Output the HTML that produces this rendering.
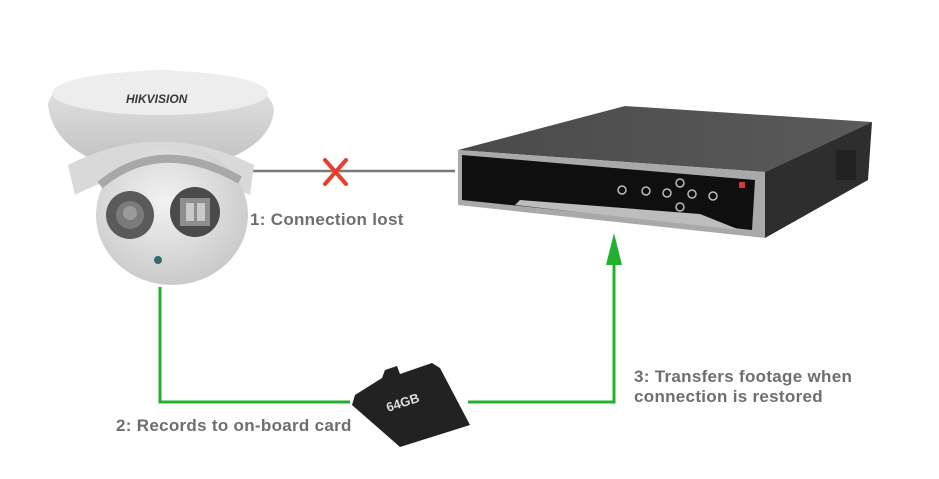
<!DOCTYPE html>
<html><head><meta charset="utf-8"><style>
html,body{margin:0;padding:0;background:#fff;width:939px;height:479px;overflow:hidden}
text{font-family:"Liberation Sans",sans-serif;font-weight:bold;fill:#6e6e6e}
</style></head><body>
<svg width="939" height="479" viewBox="0 0 939 479" xmlns="http://www.w3.org/2000/svg">
<defs>
<linearGradient id="dome" x1="0" y1="0" x2="0" y2="1"><stop offset="0" stop-color="#e8e8e8"/><stop offset="1" stop-color="#bdbdbd"/></linearGradient>
<radialGradient id="ball" cx="0.45" cy="0.4" r="0.7"><stop offset="0" stop-color="#f2f2f2"/><stop offset="1" stop-color="#c4c4c4"/></radialGradient>
<linearGradient id="top" x1="0" y1="0" x2="1" y2="0"><stop offset="0" stop-color="#4a4a4a"/><stop offset="1" stop-color="#5a5a5a"/></linearGradient>
</defs>
<line x1="250" y1="171" x2="455" y2="171" stroke="#7a7a7a" stroke-width="2.5"/>
<g stroke="#e8402e" stroke-width="4" stroke-linecap="round"><line x1="325" y1="160" x2="346" y2="184"/><line x1="346" y1="160" x2="325" y2="184"/></g>
<text x="250" y="225" font-size="17" letter-spacing="0.3">1: Connection lost</text>
<!-- camera -->
<path d="M48 105 Q50 75 160 70 Q270 75 274 110 Q270 160 160 175 Q55 165 48 105 Z" fill="url(#dome)"/>
<ellipse cx="160" cy="93" rx="108" ry="22" fill="#ededed"/>
<text x="126" y="103" font-size="12" font-style="italic" style="fill:#3a3a3a">HIKVISION</text>
<path d="M68 165 Q160 118 254 165 L250 195 Q160 150 75 195 Z" fill="#d9d9d9"/>
<ellipse cx="172" cy="215" rx="76" ry="70" fill="url(#ball)"/>
<path d="M100 185 Q160 135 240 180" stroke="#a8a8a8" stroke-width="8" fill="none"/>
<circle cx="130" cy="215" r="24" fill="#5a5a5a"/><circle cx="130" cy="215" r="14" fill="#7a7a7a"/><circle cx="130" cy="213" r="7" fill="#9a9a9a"/>
<circle cx="195" cy="212" r="25" fill="#4a4a4a"/><rect x="180" y="198" width="30" height="28" fill="#8e8e8e"/><rect x="186" y="203" width="8" height="18" fill="#c9c9c9"/><rect x="197" y="203" width="8" height="18" fill="#c9c9c9"/>
<circle cx="158" cy="260" r="4" fill="#2f6d6a"/>
<!-- green path -->
<polyline points="160,287 160,402 350,402" fill="none" stroke="#22b02e" stroke-width="3"/>
<polyline points="468,402 614,402 614,262" fill="none" stroke="#22b02e" stroke-width="3"/>
<polygon points="614,233 606,265 622,265" fill="#22b02e"/>
<!-- sd card -->
<polygon points="355,395 382,378 385,370 397,366 400,374 432,363 440,368 470,425 400,447 352,405" fill="#222"/>
<text x="388" y="412" font-size="13" font-weight="normal" style="fill:#ddd" transform="rotate(-18 388 412)">64GB</text>
<text x="116" y="431" font-size="17" letter-spacing="0.3">2: Records to on-board card</text>
<!-- NVR -->
<polygon points="458,150 625,106 872,122 765,172" fill="url(#top)"/>
<polygon points="765,172 872,122 868,180 765,238" fill="#2e2e2e"/>
<polygon points="458,150 765,172 765,238 458,205" fill="#a9a9a9"/>
<polygon points="462,155 755,180 752,230 462,200" fill="#0f0f0f"/>
<polygon points="520,200 700,214 740,230 515,205" fill="#bdbdbd"/>
<g fill="none" stroke="#bbb" stroke-width="1.5"><circle cx="622" cy="190" r="4"/><circle cx="646" cy="191" r="4"/><circle cx="667" cy="193" r="4"/><circle cx="680" cy="183" r="4"/><circle cx="692" cy="194" r="4"/><circle cx="680" cy="207" r="4"/><circle cx="713" cy="196" r="4"/></g>
<rect x="739" y="182" width="6" height="6" fill="#d43a3a"/>
<rect x="836" y="150" width="20" height="30" fill="#222"/>
<text x="634" y="382" font-size="17" letter-spacing="0.3">3: Transfers footage when</text>
<text x="634" y="402" font-size="17" letter-spacing="0.3">connection is restored</text>
</svg>
</body></html>
